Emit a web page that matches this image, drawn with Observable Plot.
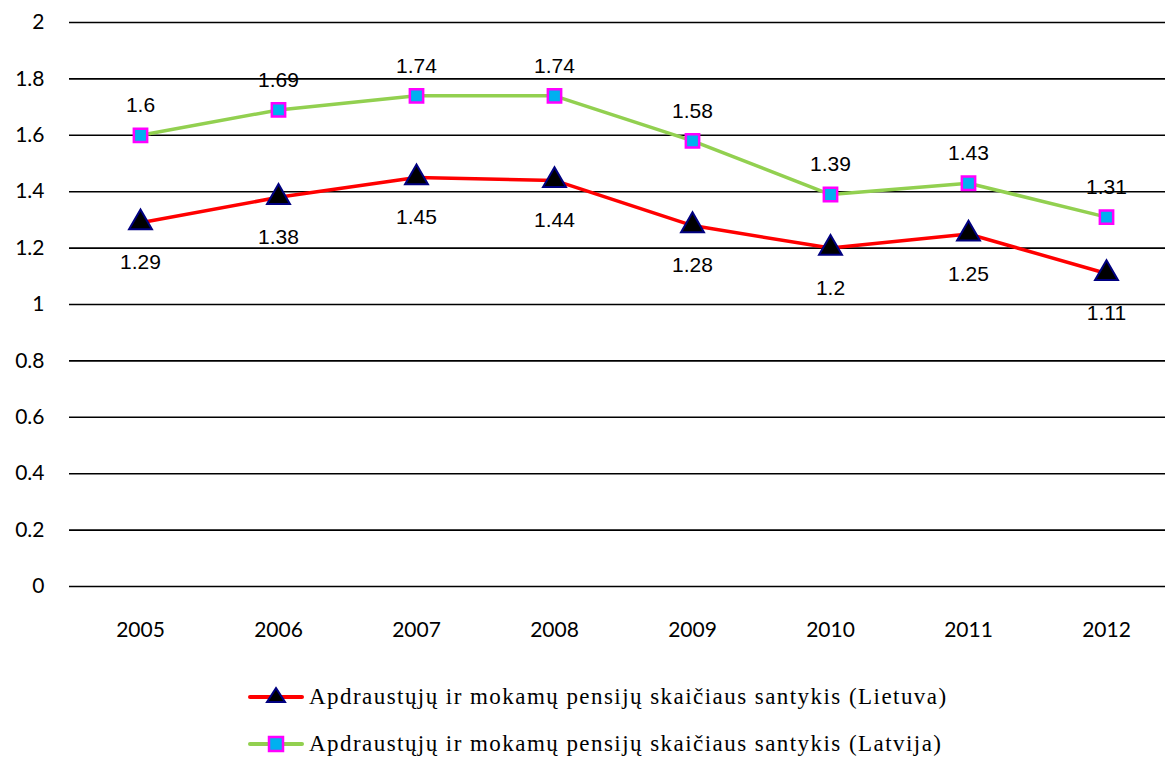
<!DOCTYPE html>
<html>
<head>
<meta charset="utf-8">
<script src="https://cdn.jsdelivr.net/npm/d3@7"></script>
<script src="https://cdn.jsdelivr.net/npm/@observablehq/plot@0.6"></script>
<style>
  body { margin: 0; background: #fff; }
  #legend { font-family: "Liberation Serif", "DejaVu Serif", serif; font-size: 23px; letter-spacing: 1.45px; color: #000; }
  .row { position: absolute; left: 248px; height: 30px; display: flex; align-items: center; }
  .row svg { margin-right: 5px; }
</style>
</head>
<body>
<div id="chart"></div>
<div id="legend"></div>
<script>
const years = ["2005","2006","2007","2008","2009","2010","2011","2012"];
const lietuva = [1.29, 1.38, 1.45, 1.44, 1.28, 1.2, 1.25, 1.11];
const latvija = [1.6, 1.69, 1.74, 1.74, 1.58, 1.39, 1.43, 1.31];
const yTicks = [0, 0.2, 0.4, 0.6, 0.8, 1, 1.2, 1.4, 1.6, 1.8, 2];
const seriesNames = [
  "Apdraustųjų ir mokamų pensijų skaičiaus santykis (Lietuva)",
  "Apdraustųjų ir mokamų pensijų skaičiaus santykis (Latvija)"
];

const lt = years.map((y, i) => ({year: y, value: lietuva[i]}));
const lv = years.map((y, i) => ({year: y, value: latvija[i]}));

const red = "#FF0000", green = "#92D050", cyan = "#00B0F0", magenta = "#FF00FF", navy = "#000080";

const chart = Plot.plot({
  width: 1165,
  height: 660,
  marginLeft: 69,
  marginRight: 0,
  marginTop: 22,
  marginBottom: 74,
  style: {fontFamily: "Lato, 'Open Sans', sans-serif", fontSize: "21px", color: "#000", background: "#fff"},
  x: {type: "point", domain: years, range: [139, 1106], padding: 0, label: null},
  y: {domain: [0, 2], label: null},
  marks: [
    Plot.ruleY(yTicks, {stroke: "#000", strokeWidth: 1.6}),
    Plot.axisY(yTicks, {tickSize: 0, tickPadding: 25, tickFormat: d => String(d), fontSize: 21, label: null}),
    Plot.axisX(years, {tickSize: 0, tickPadding: 36, fontSize: 21, label: null}),
    Plot.line(lt, {x: "year", y: "value", stroke: red, strokeWidth: 3.5}),
    Plot.line(lv, {x: "year", y: "value", stroke: green, strokeWidth: 3.5}),
    Plot.dot(lt, {x: "year", y: "value", symbol: "triangle", r: 8.5, fill: "#000", stroke: navy, strokeWidth: 2}),
    Plot.dot(lv, {x: "year", y: "value", symbol: "square", r: 7.5, fill: cyan, stroke: magenta, strokeWidth: 2.5}),
    Plot.text(lt, {x: "year", y: "value", text: d => String(d.value), dy: 40, fontSize: 21, fontFamily: "Liberation Sans, Arial, sans-serif"}),
    Plot.text(lv, {x: "year", y: "value", text: d => String(d.value), dy: -30, fontSize: 21, fontFamily: "Liberation Sans, Arial, sans-serif"})
  ]
});
document.getElementById("chart").appendChild(chart);

const legend = document.getElementById("legend");
const rows = [
  {name: seriesNames[0], stroke: red, top: 682, sym: 'tri'},
  {name: seriesNames[1], stroke: green, top: 729, sym: 'sq'}
];
for (const r of rows) {
  const div = document.createElement("div");
  div.className = "row";
  div.style.top = r.top + "px";
  const symbol = r.sym === 'tri'
    ? `<polygon points="28,4 37,18 19,18" fill="#000" stroke="${navy}" stroke-width="2"/>`
    : `<rect x="21" y="6" width="14" height="14" fill="${cyan}" stroke="${magenta}" stroke-width="2.5"/>`;
  div.innerHTML = `<svg width="56" height="26"><line x1="2" x2="54" y1="13" y2="13" stroke="${r.stroke}" stroke-width="4" stroke-linecap="round"/>${symbol}</svg><span>${r.name}</span>`;
  legend.appendChild(div);
}
</script>
</body>
</html>
